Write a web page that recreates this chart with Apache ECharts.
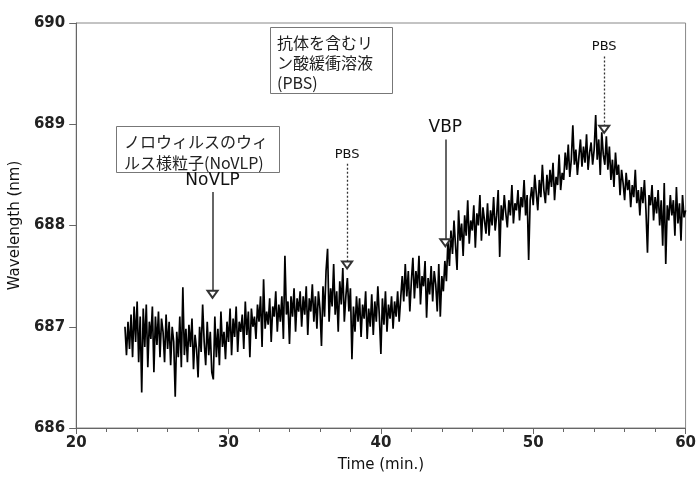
<!DOCTYPE html>
<html><head><meta charset="utf-8">
<script src="https://cdn.jsdelivr.net/npm/echarts@6/dist/echarts.min.js"></script>
<style>html,body{margin:0;padding:0;background:#fff}#c{width:699px;height:478px}</style>
</head><body><div id="c"></div>
<script>
// sampling grid (minutes)
const timeStart = 23.2;
const timeStep = 0.1;
// measured wavelength (nm), one row per minute
const wavelength = [
 687.00,686.72,687.05,686.78,687.12,686.70,687.20,686.85,
 687.25,686.65,687.10,686.35,687.18,686.80,687.22,686.60,687.05,686.88,
 687.20,686.55,687.10,686.82,687.15,686.70,687.08,686.95,686.65,687.12,
 686.78,687.05,686.62,687.00,686.85,686.31,686.95,686.70,687.10,686.60,
 687.39,686.72,686.98,686.65,687.02,686.80,687.08,686.58,686.92,686.78,
 686.50,687.00,686.75,687.22,686.85,686.62,687.05,686.72,686.95,686.55,
 686.48,687.10,686.70,686.98,686.62,687.15,686.80,686.95,686.68,687.05,
 686.85,687.18,686.72,687.08,686.90,687.20,686.75,687.05,686.95,687.12,
 686.78,687.25,686.92,687.15,686.70,687.18,687.00,687.10,686.88,687.22,
 687.05,687.30,686.80,687.47,686.98,687.15,687.02,687.28,686.85,687.20,
 687.10,687.35,686.95,687.22,687.05,687.30,686.88,687.70,687.12,687.25,
 686.83,687.30,687.10,687.38,686.95,687.28,687.15,687.35,687.00,687.30,
 687.12,687.40,686.92,687.28,687.15,687.42,687.05,687.30,686.98,687.35,
 687.18,686.81,687.40,687.10,687.55,687.77,687.05,687.38,687.20,687.62,
 687.12,687.35,686.95,687.45,687.22,687.58,687.05,687.30,687.48,687.15,
 687.38,686.68,687.20,686.95,687.30,687.05,687.28,686.90,687.22,687.08,
 687.35,686.88,687.18,687.00,687.32,686.92,687.25,687.05,687.40,687.10,
 686.73,687.28,687.02,687.35,686.95,687.22,687.08,687.30,686.98,687.25,
 687.10,687.35,687.05,687.28,687.50,687.25,687.62,687.30,687.55,687.15,
 687.45,687.68,687.28,687.55,687.38,687.70,687.22,687.50,687.40,687.65,
 687.09,687.48,687.32,687.60,687.25,687.55,687.42,687.15,687.62,687.10,
 687.50,687.35,687.65,687.45,687.85,687.60,687.95,687.72,688.05,687.80,
 687.56,688.15,687.85,688.02,687.70,688.10,687.90,688.25,687.82,688.05,
 687.95,688.20,687.78,688.12,688.00,688.30,687.85,688.18,688.05,687.92,
 688.22,687.90,688.15,688.00,688.28,687.95,688.10,688.35,687.69,688.20,
 688.05,688.30,688.12,687.98,688.25,688.10,688.40,688.02,688.22,688.15,
 688.35,688.05,688.28,688.18,688.45,688.10,688.30,687.66,688.25,688.38,
 688.20,688.50,688.32,688.15,688.45,688.28,688.60,688.35,688.22,688.50,
 688.30,688.55,688.38,688.62,688.25,688.48,688.40,688.70,688.35,688.52,
 688.45,688.72,688.55,688.80,688.48,688.65,688.99,688.60,688.75,688.50,
 688.68,688.85,688.58,688.78,688.62,688.90,688.55,688.72,688.82,688.60,
 688.75,689.09,688.65,688.85,688.50,688.92,688.70,688.60,688.88,688.55,
 688.78,688.45,688.65,688.38,688.72,688.50,688.60,688.30,688.55,688.42,
 688.25,688.52,688.35,688.45,688.18,688.40,688.28,688.55,688.22,688.35,
 688.10,688.38,688.22,688.45,688.15,687.73,688.30,688.20,688.40,688.05,
 688.28,688.12,688.35,688.00,688.25,687.80,688.42,687.62,688.20,688.05,
 688.30,688.10,688.25,687.90,688.38,688.02,688.22,687.85,688.30,688.08,
 688.15
];
// axis ranges and tick labels
const xRange = [20, 60];
const xTickStep = 10;
const yRange = [686, 690];
const yTickStep = 1;
// event annotations: [time, label, line top (nm), arrow tip (nm), dashed]
const eventTimes = [28.95, 37.78, 44.23, 54.66];
const eventLabels = ['NoVLP', 'PBS', 'VBP', 'PBS'];
const eventTops = [688.33, 688.61, 688.85, 689.67];
const eventTips = [687.32, 687.61, 687.83, 688.95];
const eventDashed = [false, true, false, true];
// boxed notes
const noteAntibody = ['抗体を含むリ', 'ン酸緩衝溶液', '(PBS)'];
const noteVLP = ['ノロウィルスのウィ', 'ルス様粒子(NoVLP)'];

const points = wavelength.map((v, i) => [+(timeStart + i * timeStep).toFixed(2), v]);

const markData = eventTimes.map((t, i) => [
  {coord: [t, eventTops[i]], symbol: 'none',
   lineStyle: {type: eventDashed[i] ? [2, 2] : 'solid', width: eventDashed[i] ? 1.3 : 1.5, color: '#333'},
   label: {formatter: eventLabels[i], fontSize: eventDashed[i] ? 13 : 17}},
  {coord: [t, eventTips[i]], symbol: 'emptyTriangle', symbolSize: [10, 7]}
]);

const chart = echarts.init(document.getElementById('c'));
const font = 'DejaVu Sans';
chart.setOption({
  animation: false,
  grid: {left: 75, right: 10, top: 23, bottom: 45, show: true, borderColor: '#888', borderWidth: 1},
  xAxis: {
    type: 'value', min: xRange[0], max: xRange[1], interval: xTickStep,
    name: 'Time (min.)', nameLocation: 'middle', nameGap: 30,
    nameTextStyle: {fontFamily: font, fontSize: 15, color: '#111'},
    axisLine: {show: true, lineStyle: {color: '#666', width: 1}},
    axisTick: {show: true, inside: false, length: 6, lineStyle: {color: '#666'}},
    minorTick: {show: true, splitNumber: 5, length: 4, lineStyle: {color: '#666'}},
    axisLabel: {fontFamily: font, fontSize: 15, fontWeight: 'bold', color: '#222', margin: 8},
    splitLine: {show: false}
  },
  yAxis: {
    type: 'value', min: yRange[0], max: yRange[1], interval: yTickStep,
    name: 'Wavelength (nm)', nameLocation: 'middle', nameGap: 50,
    nameTextStyle: {fontFamily: font, fontSize: 15, color: '#111'},
    axisLine: {show: true, lineStyle: {color: '#666', width: 1}},
    axisTick: {show: true, inside: false, length: 7, lineStyle: {color: '#666'}},
    axisLabel: {fontFamily: font, fontSize: 15, fontWeight: 'bold', color: '#222', margin: 11},
    splitLine: {show: false}
  },
  series: [{
    type: 'line', data: points, showSymbol: false, symbol: 'none',
    lineStyle: {color: '#000', width: 1.7},
    markLine: {
      silent: true, animation: false,
      label: {show: true, position: 'start', distance: 3, color: '#111', fontFamily: font},
      lineStyle: {color: '#333'},
      itemStyle: {color: '#333'},
      data: markData
    }
  }],
  graphic: [
    {type: 'rect', shape: {x: 270.5, y: 27.5, width: 122, height: 66}, style: {fill: '#fff', stroke: '#777', lineWidth: 1}},
    {type: 'text', x: 277, y: 33, style: {text: noteAntibody.join('\n'), font: '16px "Noto Sans CJK JP"', lineHeight: 20, fill: '#222'}},
    {type: 'rect', shape: {x: 116.5, y: 126.5, width: 163, height: 46}, style: {fill: '#fff', stroke: '#777', lineWidth: 1}},
    {type: 'text', x: 124, y: 131, style: {text: noteVLP.join('\n'), font: '16px "Noto Sans CJK JP"', lineHeight: 21, fill: '#222'}}
  ]
});
</script></body></html>
